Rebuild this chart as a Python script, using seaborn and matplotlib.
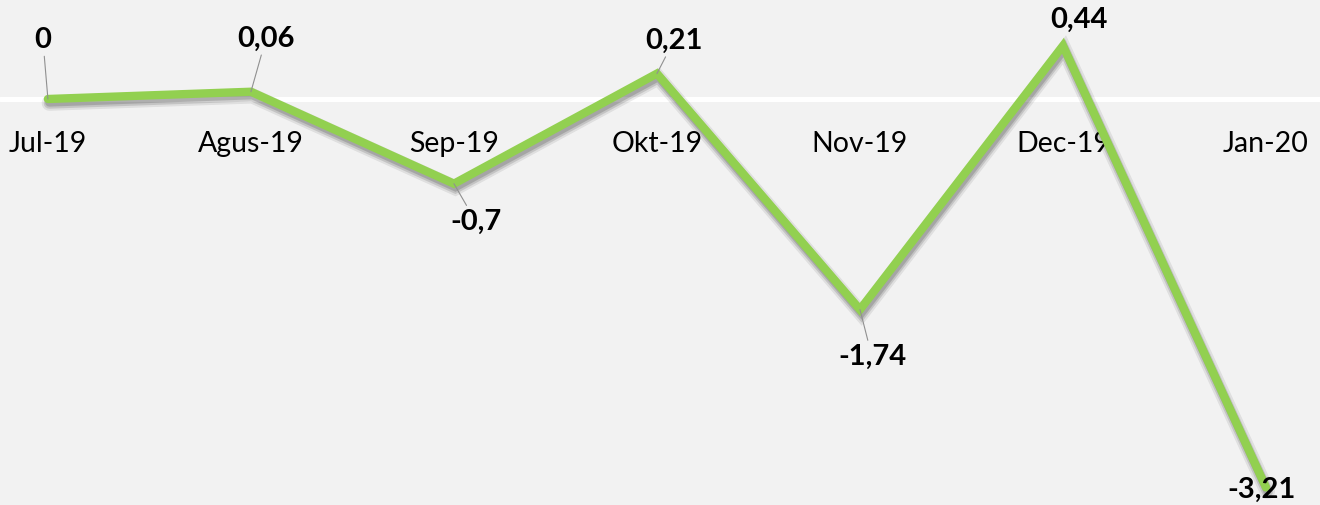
import matplotlib
matplotlib.use("Agg")
import matplotlib.pyplot as plt
import matplotlib.patheffects as pe
import pandas as pd
import seaborn as sns

months = ["Jul-19", "Agus-19", "Sep-19", "Okt-19", "Nov-19", "Dec-19", "Jan-20"]
values = [0, 0.06, -0.7, 0.21, -1.74, 0.44, -3.21]
value_labels = ["0", "0,06", "-0,7", "0,21", "-1,74", "0,44", "-3,21"]

# label offsets in pixels (dx, dy) and whether a leader line is drawn
label_offsets = [(-5, 59), (15, 53), (22, -38), (17, 33), (12, -47), (16, 26), (-4, -2)]
leaders = [True, True, True, True, True, False, False]

sns.set_theme(style="white")
plt.rcParams["font.family"] = ["Lato", "DejaVu Sans"]

df = pd.DataFrame({"month": months, "value": values})

fig = plt.figure(figsize=(13.2, 5.05), dpi=100)
fig.patch.set_facecolor("#f2f2f2")
ax = fig.add_axes([0, 0, 1, 1])
ax.set_facecolor("#f2f2f2")

ax.axhline(0, color="white", lw=3.6, zorder=1)

sns.lineplot(data=df, x="month", y="value", ax=ax, color="#92d050", lw=6,
             sort=False, zorder=3)
line = ax.lines[-1]
line.set_solid_capstyle("round")
line.set_solid_joinstyle("miter")
# soft drop shadow
line.set_path_effects([
    pe.SimpleLineShadow(offset=(1, -3), alpha=0.08, shadow_color="black", linewidth=11),
    pe.SimpleLineShadow(offset=(1, -3), alpha=0.12, shadow_color="black", linewidth=8),
    pe.SimpleLineShadow(offset=(1, -2.5), alpha=0.15, shadow_color="black", linewidth=6),
    pe.Normal()])

for i, (v, lab) in enumerate(zip(values, value_labels)):
    dx, dy = label_offsets[i]
    arrow = dict(arrowstyle="-", color="#909090", lw=0.8, shrinkA=0, shrinkB=0) if leaders[i] else None
    ax.annotate(lab, xy=(i, v), xytext=(dx, dy), textcoords="offset pixels",
                ha="center", va="center", fontsize=21, fontweight="bold",
                color="black", arrowprops=arrow, zorder=5)

ax.set_xlim(-0.236, 6.266)
ax.set_ylim(-3.355, 0.818)

ax.spines["bottom"].set_position(("data", 0))
for s in ["top", "left", "right", "bottom"]:
    ax.spines[s].set_visible(False)
ax.set_yticks([])
ax.set_xlabel("")
ax.set_ylabel("")
ax.tick_params(axis="x", length=0, pad=23, labelsize=20.5, colors="black")

fig.savefig("out.png", dpi=100, facecolor=fig.get_facecolor())
